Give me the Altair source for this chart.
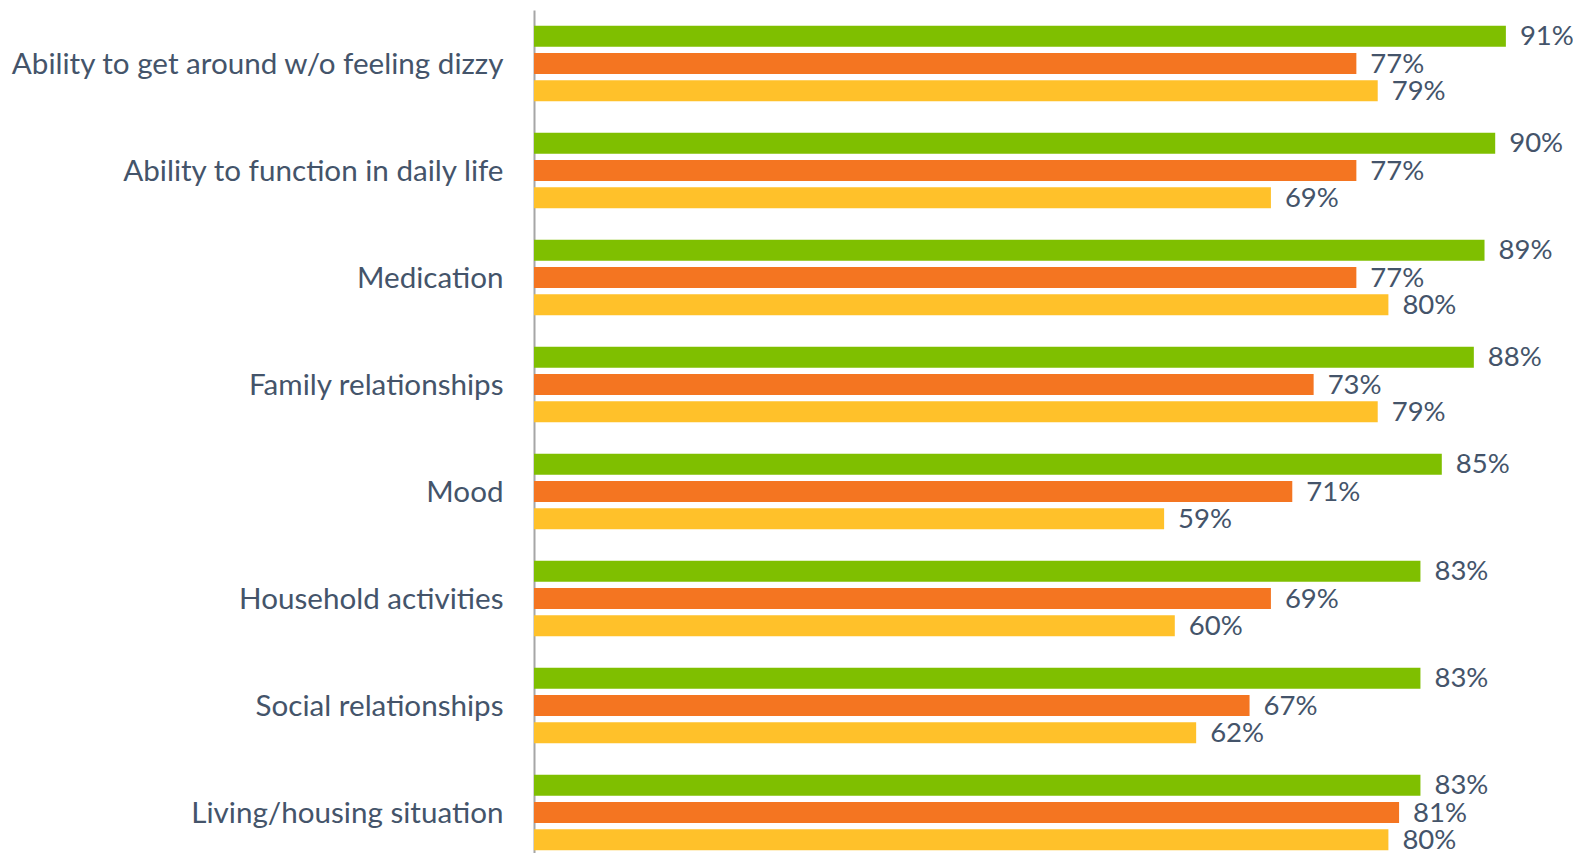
import altair as alt
import pandas as pd

categories = [
    "Ability to get around w/o feeling dizzy",
    "Ability to function in daily life",
    "Medication",
    "Family relationships",
    "Mood",
    "Household activities",
    "Social relationships",
    "Living/housing situation",
]
series = ["Series 1", "Series 2", "Series 3"]
green_vals = [91, 90, 89, 88, 85, 83, 83, 83]
orange_vals = [77, 77, 77, 73, 71, 69, 67, 81]
yellow_vals = [79, 69, 80, 79, 59, 60, 62, 80]
colors = ["#7FBF00", "#F47521", "#FFC12A"]

rows = []
for s, vals in zip(series, [green_vals, orange_vals, yellow_vals]):
    for c, v in zip(categories, vals):
        rows.append({"category": c, "series": s, "value": v, "label": f"{v}%"})
df = pd.DataFrame(rows)

FONT = "Lato"
TXT = "#44546A"

base = alt.Chart(df).encode(
    y=alt.Y(
        "category:N",
        sort=categories,
        scale=alt.Scale(range=[0, 856], paddingInner=0, paddingOuter=0),
        axis=alt.Axis(
            title=None,
            labelFont=FONT,
            labelFontSize=29.6,
            labelColor=TXT,
            labelPadding=31,
            labelOffset=1,
            ticks=False,
            domainColor="#A6A6A6",
            domainWidth=2,
            labelLimit=0,
            grid=False,
        ),
    ),
    yOffset=alt.YOffset(
        "series:N", sort=series, scale=alt.Scale(paddingInner=0.228, paddingOuter=0.581)
    ),
    x=alt.X("value:Q", scale=alt.Scale(domain=[0, 100], range=[0, 1068]), axis=None),
)

bars = base.mark_bar().encode(
    color=alt.Color("series:N", scale=alt.Scale(domain=series, range=colors), legend=None)
)
text = base.mark_text(
    align="left", baseline="middle", dx=14, dy=1, font=FONT, fontSize=27.5, color=TXT
).encode(text="label:N")

chart = (
    alt.layer(bars, text)
    .properties(
        width=1039,
        height=843,
        autosize=alt.AutoSizeParams(type="none"),
        padding={"left": 526, "top": 2, "right": 0, "bottom": 0},
    )
    .configure_view(stroke=None)
)

chart.save("out.html", embed_options={"renderer": "svg", "actions": False})
